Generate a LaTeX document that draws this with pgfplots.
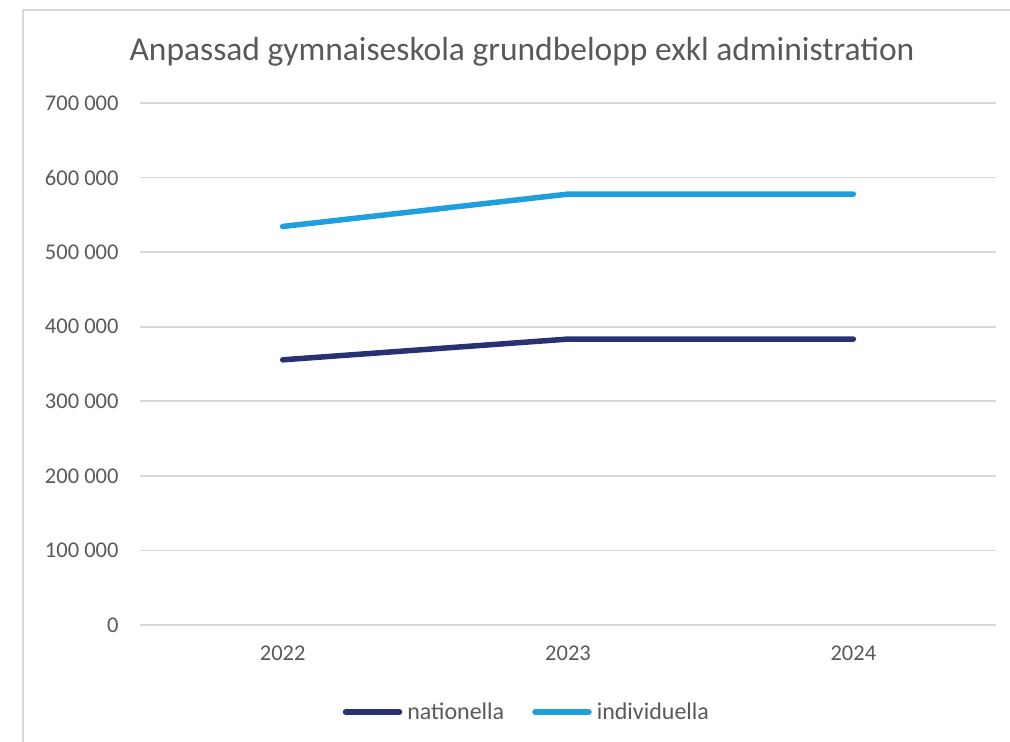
\documentclass[border=0pt]{standalone}
\usepackage{pgfplots}
\pgfplotsset{compat=1.18}
\usepackage{fontspec}
\setmainfont{Carlito}
\definecolor{navy}{HTML}{283172}
\definecolor{sky}{HTML}{1F9FDB}
\definecolor{gridc}{HTML}{D9D9D9}
\definecolor{txt}{HTML}{595959}
\begin{document}
\begin{tikzpicture}[x=1pt,y=1pt]
\path[use as bounding box] (0,0) rectangle (1010,742);
\draw[gridc, line width=2.5pt] (23,0) -- (23,732) -- (1010,732);
\node[txt, font=\fontsize{33.5}{38}\selectfont] at (522,690) {Anpassad gymnaiseskola grundbelopp exkl administration};
\begin{axis}[
  scale only axis, width=856pt, height=522pt,
  at={(140pt,117pt)}, anchor=south west,
  xmin=-0.5, xmax=2.5, ymin=0, ymax=700000,
  scaled y ticks=false,
  xtick={0,1,2}, xticklabels={2022,2023,2024},
  ytick={0,100000,200000,300000,400000,500000,600000,700000},
  yticklabels={0,100 000,200 000,300 000,400 000,500 000,600 000,700 000},
  axis line style={draw=none},
  major tick length=0pt,
  ymajorgrids, grid style={gridc, line width=1.8pt},
  tick label style={txt, font=\fontsize{22.5}{26}\selectfont},
  yticklabel style={xshift=-18pt},
  xticklabel style={yshift=-17pt},
  clip=false,
  legend columns=2,
  legend style={draw=none, fill=none, at={(0.452,-0.1667)}, anchor=center,
    font=\fontsize{24}{28}\selectfont, text=txt,
    /tikz/every even column/.append style={column sep=26pt},
    /tikz/every odd column/.append style={column sep=3pt},
    inner sep=0pt, nodes={inner sep=2pt}},
  legend image code/.code={\draw[#1] (0pt,0pt) -- (54pt,0pt);},
]
\addplot[navy, line width=5.5pt, line cap=round, line join=round] coordinates {(0,355600) (1,383400) (2,383400)};
\addlegendentry{nationella}
\addplot[sky, line width=5.5pt, line cap=round, line join=round] coordinates {(0,534400) (1,577800) (2,577800)};
\addlegendentry{individuella}
\end{axis}
\end{tikzpicture}
\end{document}
